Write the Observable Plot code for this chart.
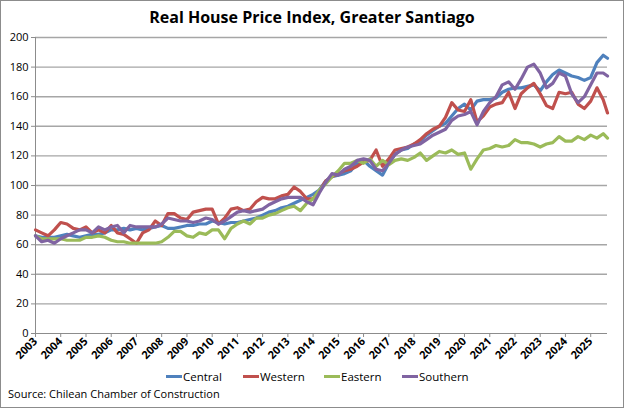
<!DOCTYPE html>
<html><head><meta charset="utf-8">
<script src="https://cdn.jsdelivr.net/npm/d3@7"></script>
<script src="https://cdn.jsdelivr.net/npm/@observablehq/plot@0.6"></script>
<style>
body{margin:0;background:#fff;}
#chart{position:relative;width:624px;height:408px;overflow:hidden;font-family:"Open Sans",sans-serif;color:#000;}
#frame{position:absolute;left:0;top:0;width:622px;height:406px;border:1px solid #8c8c8c;pointer-events:none;}
#title{position:absolute;top:6px;left:0;width:624px;text-align:center;font-weight:bold;font-size:16px;}
#plot{position:absolute;left:0;top:30px;}
#legend{position:absolute;top:369px;left:0;width:624px;height:18px;font-size:11.5px;}
#legend .item{position:absolute;top:0;display:flex;align-items:center;}
#legend .sw{width:16px;height:3px;margin-right:1px;}
#source{position:absolute;left:8px;top:386px;font-size:11px;}
</style></head>
<body>
<div id="chart">
  <div id="title">Real House Price Index, Greater Santiago</div>
  <div id="plot"></div>
  <div id="legend"></div>
  <div id="source">Source: Chilean Chamber of Construction</div>
  <div id="frame"></div>
</div>
<script>
const dates = [
"2003-01","2003-04","2003-07","2003-10","2004-01","2004-04","2004-07","2004-10",
"2005-01","2005-04","2005-07","2005-10","2006-01","2006-04","2006-07","2006-10",
"2007-01","2007-04","2007-07","2007-10","2008-01","2008-04","2008-07","2008-10",
"2009-01","2009-04","2009-07","2009-10","2010-01","2010-04","2010-07","2010-10",
"2011-01","2011-04","2011-07","2011-10","2012-01","2012-04","2012-07","2012-10",
"2013-01","2013-04","2013-07","2013-10","2014-01","2014-04","2014-07","2014-10",
"2015-01","2015-04","2015-07","2015-10","2016-01","2016-04","2016-07","2016-10",
"2017-01","2017-04","2017-07","2017-10","2018-01","2018-04","2018-07","2018-10",
"2019-01","2019-04","2019-07","2019-10","2020-01","2020-04","2020-07","2020-10",
"2021-01","2021-04","2021-07","2021-10","2022-01","2022-04","2022-07","2022-10",
"2023-01","2023-04","2023-07","2023-10","2024-01","2024-04","2024-07","2024-10",
"2025-01","2025-04","2025-07","2025-09"];

const central = [
66,65,65,65, 66,67,66,65, 66,67,67,68, 70,70,71,70, 71,70,71,72, 73,71,71,72,
73,73,74,74, 76,75,74,75, 75,76,77,78, 80,82,83,85, 86,88,90,92, 94,97,103,106,
107,108,110,115, 117,113,110,107, 115,121,124,125, 128,130,134,137, 140,142,147,152,
155,151,157,158, 158,159,163,165, 166,166,167,168, 164,170,175,178, 176,174,173,171,
173,183,188,186];
const western = [
70,68,66,70, 75,74,71,70, 72,68,70,68, 73,68,67,64, 61,68,70,76, 73,81,81,78,
77,82,83,84, 84,74,78,84, 85,83,84,89, 92,91,91,93, 94,99,96,91, 91,96,103,106,
108,110,111,113, 116,117,124,113, 118,124,125,126, 128,131,135,138, 140,146,156,151,
150,158,143,147, 153,155,156,163, 152,162,166,169, 162,154,152,163, 162,163,155,152,
157,166,158,149];
const eastern = [
66,64,64,64, 64,63,63,63, 65,65,66,65, 63,62,62,61, 61,61,61,61, 62,65,69,69,
66,65,68,67, 70,70,64,71, 74,76,74,78, 78,80,81,83, 85,86,83,88, 91,97,101,106,
110,115,115,117, 115,118,113,117, 114,117,118,117, 119,122,117,120, 123,122,124,121,
122,111,118,124, 125,127,126,127, 131,129,129,128, 126,128,129,133, 130,130,133,131,
134,132,135,132];
const southern = [
66,62,63,61, 64,66,68,70, 70,68,72,70, 72,73,68,73, 72,72,72,72, 74,78,77,76,
76,75,76,78, 77,74,76,79, 82,83,82,83, 84,87,89,91, 92,92,92,89, 87,95,102,108,
107,111,113,117, 118,117,111,110, 115,121,124,126, 127,128,131,134, 136,138,144,147,
148,150,141,150, 156,160,168,170, 165,172,180,182, 176,166,169,176, 174,162,156,160,
168,176,176,174];

const seriesNames = ["Central","Western","Eastern","Southern"];
const seriesColors = ["#4F81BD","#C0504D","#9BBB59","#8064A2"];
const yTicks = [0,20,40,60,80,100,120,140,160,180,200];
const yearLabels = ["2003","2004","2005","2006","2007","2008","2009","2010","2011","2012","2013","2014","2015","2016","2017","2018","2019","2020","2021","2022","2023","2024","2025"];

const seriesValues = [central, western, eastern, southern];
const data = seriesNames.flatMap((name, s) =>
  seriesValues[s].map((v, i) => ({name, date: new Date(dates[i] + "-01T00:00:00Z"), value: v})));
const yearDates = yearLabels.map(y => new Date(y + "-01-01T00:00:00Z"));

const chart = Plot.plot({
  width: 624, height: 340,
  marginTop: 7, marginBottom: 37, marginLeft: 35, marginRight: 17,
  style: {fontFamily: "'Open Sans', sans-serif", fontSize: "11px", color: "#000", background: "transparent"},
  x: {type: "utc", domain: [new Date("2003-01-01T00:00:00Z"), new Date("2025-09-01T00:00:00Z")]},
  y: {domain: [0, 200]},
  color: {domain: seriesNames, range: seriesColors},
  marks: [
    Plot.ruleY(yTicks.filter(d => d > 0), {stroke: "#a6a6a6", strokeWidth: 1.4}),
    Plot.ruleY([0], {stroke: "#8c8c8c", strokeWidth: 1}),
    Plot.ruleX([new Date("2003-01-01T00:00:00Z")], {stroke: "#8c8c8c", strokeWidth: 1}),
    Plot.axisY(yTicks, {tickSize: 4, tickPadding: 3, stroke: "#8c8c8c", fill: "#000", label: null}),
    Plot.axisX(yearDates, {tickSize: 4, tickRotate: -45, tickFormat: d => String(d.getUTCFullYear()), stroke: "#8c8c8c", fill: "#000", label: null, fontWeight: "bold", tickPadding: 2}),
    Plot.lineY(data, {x: "date", y: "value", stroke: "name", z: "name", strokeWidth: 3.2, strokeLinejoin: "round"})
  ]
});
document.getElementById("plot").appendChild(chart);

const legendX = [166, 243, 324, 402];
const legend = document.getElementById("legend");
seriesNames.forEach((n, i) => {
  const it = document.createElement("div");
  it.className = "item";
  it.style.left = legendX[i] + "px";
  it.innerHTML = `<span class="sw" style="background:${seriesColors[i]}"></span><span>${n}</span>`;
  legend.appendChild(it);
});
</script>
</body></html>
